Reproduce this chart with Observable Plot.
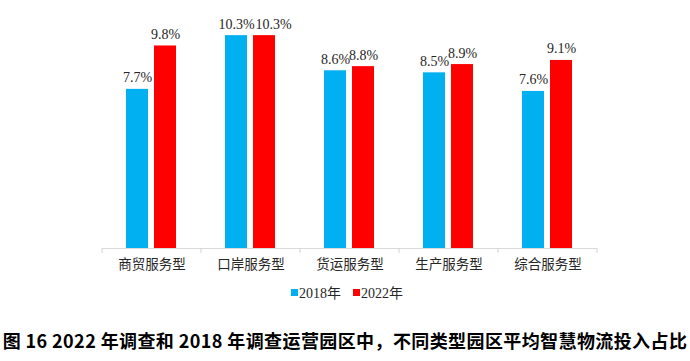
<!DOCTYPE html>
<html>
<head>
<meta charset="utf-8">
<script src="https://cdn.jsdelivr.net/npm/d3@7"></script>
<script src="https://cdn.jsdelivr.net/npm/@observablehq/plot@0.6"></script>
<style>
  body { margin: 0; background: #fff; width: 690px; }
  #legend { display: flex; justify-content: center; align-items: center; height: 24px; font-family: "Liberation Serif", "Noto Sans CJK SC", serif; font-size: 14px; color: #262626; padding-left: 4px; }
  .sw { display: inline-block; width: 7px; height: 7px; margin-right: 1px; }
  .item { display: flex; align-items: center; margin: 0 6px; }
  #caption { margin-top: 23px; text-align: center; font-family: "Noto Sans CJK SC", sans-serif; font-weight: bold; font-size: 18px; letter-spacing: 0.4px; color: #000; white-space: nowrap; }
</style>
</head>
<body>
<div id="chart"></div>
<div id="legend"></div>
<div id="caption">图 16 2022 年调查和 2018 年调查运营园区中，不同类型园区平均智慧物流投入占比</div>
<script>
const categories = ["商贸服务型", "口岸服务型", "货运服务型", "生产服务型", "综合服务型"];
const years = ["2018年", "2022年"];
const values2018 = [7.7, 10.3, 8.6, 8.5, 7.6];
const values2022 = [9.8, 10.3, 8.8, 8.9, 9.1];
const colors = ["#00B0F0", "#FF0000"];

const data = [];
categories.forEach((c, i) => {
  data.push({category: c, year: years[0], value: values2018[i], tie: values2018[i] === values2022[i]});
  data.push({category: c, year: years[1], value: values2022[i], tie: values2018[i] === values2022[i]});
});
// where both labels sit at the same height, the second one is nudged right (as in the original)
const shifted = d => d.tie && d.year === years[1];

const fmt = d => d.value.toFixed(1) + "%";
const chart = Plot.plot({
  width: 690,
  height: 280,
  marginTop: 0,
  marginBottom: 32,
  marginLeft: 102,
  marginRight: 93,
  style: {fontFamily: "'Liberation Serif', 'Noto Sans CJK SC', serif", fontSize: "13.5px", color: "#262626", background: "#fff"},
  fx: {domain: categories, padding: 0, axis: "bottom", label: null, tickSize: 0, tickPadding: 11},
  x: {domain: years, paddingInner: 0.21, paddingOuter: 0.84, axis: null},
  y: {domain: [0, 12], axis: null},
  color: {domain: years, range: colors},
  marks: [
    Plot.barY(data, {fx: "category", x: "year", y: "value", fill: "year"}),
    Plot.text(data.filter(d => !shifted(d)), {fx: "category", x: "year", y: "value", text: fmt, lineAnchor: "bottom", dy: -7, fontSize: 14, fill: "#262626"}),
    Plot.text(data.filter(shifted), {fx: "category", x: "year", y: "value", text: fmt, lineAnchor: "bottom", dy: -7, dx: 9, fontSize: 14, fill: "#262626"}),
    Plot.ruleY([0], {stroke: "#d9d9d9", strokeWidth: 1.2})
  ]
});
document.getElementById("chart").appendChild(chart);

// category boundary tick marks below the axis
const fx = chart.scale("fx");
const y = chart.scale("y");
const y0 = y.apply ? y.apply(0) : 248;
const svg = d3.select(chart.tagName.toLowerCase() === "svg" ? chart : chart.querySelector("svg"));
const step = (fx.range[1] - fx.range[0]) / categories.length;
for (let i = 0; i <= categories.length; i++) {
  const xx = fx.range[0] + i * step;
  svg.append("line").attr("x1", xx).attr("x2", xx).attr("y1", y0).attr("y2", y0 + 5)
    .attr("stroke", "#d9d9d9").attr("stroke-width", 1.2);
}

const legend = d3.select("#legend");
years.forEach((yr, i) => {
  const it = legend.append("span").attr("class", "item");
  it.append("span").attr("class", "sw").style("background", colors[i]);
  it.append("span").text(yr);
});
</script>
</body>
</html>
